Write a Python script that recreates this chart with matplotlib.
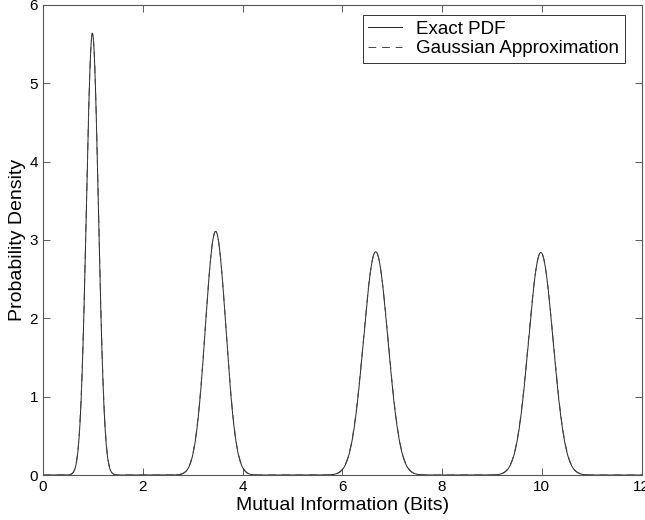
import numpy as np
import matplotlib.pyplot as plt

plt.rcParams['font.family'] = ['Liberation Sans', 'DejaVu Sans']

# peak parameters
peak_centres = [0.99, 3.46, 6.67, 9.98]
peak_heights = [5.64, 3.11, 2.85, 2.84]
peak_widths = [0.12, 0.205, 0.245, 0.245]   # std dev of each bump
x_ticks = [0, 2, 4, 6, 8, 10, 12]
y_ticks = [0, 1, 2, 3, 4, 5, 6]

x = np.linspace(0, 12, 3000)

def density(x, centres, heights, widths):
    y = np.zeros_like(x)
    for c, h, w in zip(centres, heights, widths):
        y += h * np.exp(-0.5 * ((x - c) / w) ** 2)
    return y

exact = density(x, peak_centres, peak_heights, peak_widths)
gauss = density(x, peak_centres, peak_heights, [w * 1.01 for w in peak_widths])

fig = plt.figure(figsize=(6.45, 5.2), dpi=100)
ax = fig.add_axes([0.0667, 0.0865, 0.928, 0.904])

ax.plot(x, exact, color='#222222', lw=0.7, label='Exact PDF')
ax.plot(x, gauss, color='#444444', lw=0.7, ls=(0, (8, 6)), label='Gaussian Approximation')

ax.set_xlim(0, 12)
ax.set_ylim(0, 6)
ax.set_xticks(x_ticks)
ax.set_yticks(y_ticks)
ax.tick_params(direction='in', top=True, right=True, length=5, width=0.6,
               labelsize=11, color='#444444')
for s in ax.spines.values():
    s.set_linewidth(0.8)
    s.set_color('#555555')

ax.set_xlabel('Mutual Information (Bits)', fontsize=14, labelpad=2)
ax.set_ylabel('Probability Density', fontsize=14)
ax.yaxis.set_label_coords(-0.029, 0.5)

leg = ax.legend(loc='upper right', bbox_to_anchor=(0.972, 0.979), borderaxespad=0,
                fontsize=13.5, fancybox=False, framealpha=1, edgecolor='#333333',
                handlelength=1.8, handletextpad=0.75, borderpad=0.3, labelspacing=0.15)
leg.get_frame().set_linewidth(0.7)

fig.savefig('out.png', dpi=100)
